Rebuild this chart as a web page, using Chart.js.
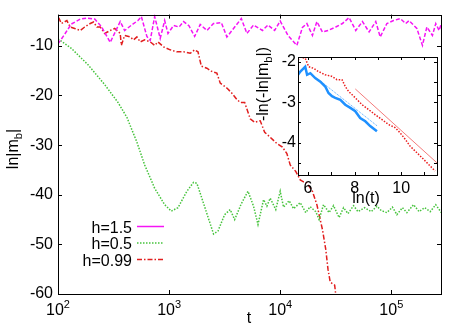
<!DOCTYPE html>
<html>
<head>
<meta charset="utf-8">
<script src="https://cdn.jsdelivr.net/npm/chart.js@4.4.1/dist/chart.umd.min.js"></script>
<style>
  html, body { margin: 0; padding: 0; background: #fff; }
  #wrap { position: relative; width: 475px; height: 332px; }
  #wrap canvas { position: absolute; left: 0; top: 0; }
</style>
</head>
<body>
<div id="wrap">
  <canvas id="mainChart" width="475" height="332"></canvas>
  <canvas id="insetChart" width="475" height="332"></canvas>
</div>
<script>
// main panel: log10(t) against ln|m_b|
const logT_h15 = [2.00, 2.05, 2.12, 2.20, 2.26, 2.33, 2.39, 2.47, 2.56, 2.60, 2.68, 2.72, 2.75, 2.80, 2.83, 2.87, 2.92, 2.96, 2.99, 3.04,
  3.09, 3.13, 3.18, 3.23, 3.28, 3.34, 3.40, 3.47, 3.52, 3.58, 3.65, 3.70, 3.76, 3.84, 3.89, 3.95, 4.00, 4.07, 4.15, 4.20,
  4.24, 4.29, 4.33, 4.38, 4.43, 4.50, 4.56, 4.62, 4.68, 4.74, 4.80, 4.86, 4.90, 4.96, 5.02, 5.08, 5.13, 5.16, 5.23, 5.28,
  5.32, 5.37, 5.40, 5.43, 5.45];
const lnm_h15 = [-9.6, -8.0, -5.6, -4.6, -4.4, -4.6, -6.1, -9.3, -5.1, -6.9, -5.5, -4.9, -4.1, -8.1, -8.9, -4.1, -8.5, -4.9, -7.5, -5.9,
  -6.2, -5.1, -6.0, -8.1, -5.7, -6.9, -5.5, -5.3, -8.2, -6.5, -4.5, -7.5, -5.8, -6.9, -5.8, -6.9, -5.0, -7.9, -9.9, -6.3,
  -5.5, -7.9, -5.1, -7.2, -6.9, -6.2, -5.5, -4.3, -6.9, -5.1, -7.2, -5.1, -8.2, -5.5, -4.9, -4.5, -5.5, -4.9, -6.5, -9.9,
  -6.2, -7.9, -5.5, -6.9, -5.5];

const logT_h05 = [2.00, 2.02, 2.12, 2.27, 2.42, 2.54, 2.62, 2.71, 2.78, 2.87, 2.96, 3.02, 3.08, 3.16, 3.22, 3.25, 3.28, 3.34, 3.40, 3.44,
  3.50, 3.55, 3.59, 3.65, 3.71, 3.76, 3.80, 3.85, 3.88, 3.91, 3.96, 4.00, 4.03, 4.08, 4.12, 4.18, 4.23, 4.27, 4.32, 4.35,
  4.39, 4.44, 4.48, 4.53, 4.57, 4.61, 4.66, 4.70, 4.76, 4.82, 4.87, 4.91, 4.96, 5.01, 5.05, 5.10, 5.14, 5.20, 5.25, 5.30,
  5.35, 5.40, 5.45];
const lnm_h05 = [-8.6, -8.9, -10.5, -13.8, -17.8, -21.4, -24.4, -29.4, -34.0, -38.7, -42.0, -43.3, -42.6, -39.3, -37.5, -37.7, -39.7, -43.8, -47.9, -47.3,
  -44.0, -43.0, -45.0, -41.8, -39.3, -42.3, -46.0, -41.0, -42.3, -40.7, -43.0, -39.3, -42.5, -41.2, -42.8, -41.6, -43.6, -42.4, -43.4, -45.0,
  -42.0, -43.6, -42.2, -44.6, -42.6, -43.8, -42.2, -43.4, -42.6, -43.4, -42.3, -43.2, -43.6, -42.5, -44.0, -42.6, -43.6, -42.0, -43.4, -42.6,
  -43.4, -42.0, -43.6];

const logT_h099 = [2.00, 2.01, 2.03, 2.08, 2.11, 2.15, 2.20, 2.24, 2.29, 2.32, 2.35, 2.38, 2.42, 2.47, 2.51, 2.56, 2.57, 2.60, 2.65, 2.68,
  2.71, 2.74, 2.78, 2.83, 2.87, 2.90, 2.95, 3.01, 3.07, 3.13, 3.19, 3.23, 3.26, 3.29, 3.34, 3.38, 3.43, 3.46, 3.52, 3.56,
  3.61, 3.64, 3.68, 3.73, 3.77, 3.82, 3.86, 3.91, 3.97, 4.02, 4.06, 4.09, 4.14, 4.18, 4.21, 4.24, 4.29, 4.33, 4.36, 4.38,
  4.41, 4.43, 4.45, 4.49, 4.51];
const lnm_h099 = [-4.6, -4.5, -5.5, -4.9, -6.2, -6.5, -6.9, -6.2, -5.5, -5.2, -6.2, -6.2, -7.5, -6.9, -6.5, -7.5, -9.9, -7.9, -8.2, -8.8,
  -8.2, -9.2, -8.8, -9.2, -9.9, -9.2, -10.2, -10.8, -11.2, -11.2, -11.5, -10.8, -11.2, -14.1, -14.5, -15.1, -15.5, -17.5, -18.5, -19.4,
  -20.8, -21.4, -21.4, -24.7, -25.4, -25.1, -27.4, -28.4, -29.7, -30.4, -31.7, -34.0, -35.3, -37.0, -37.4, -37.6, -39.3, -42.0, -45.0, -47.0,
  -51.0, -55.0, -57.6, -58.2, -62.0];

const seriesLabels = ['h=1.5', 'h=0.5', 'h=0.99'];
const xTicks = [1e2, 1e3, 1e4, 1e5];
const yTicks = [-60, -50, -40, -30, -20, -10];

// inset: ln(t) against -ln(-ln|m_b|)
const insetBlueX = [5.57, 5.67, 5.81, 5.88, 5.96, 6.10, 6.31, 6.53, 6.74, 6.88, 7.03, 7.17, 7.39, 7.60, 7.82, 8.03, 8.24, 8.46, 8.67, 8.96];
const insetBlueY = [-2.32, -2.24, -2.16, -2.12, -2.32, -2.28, -2.40, -2.49, -2.61, -2.77, -2.85, -2.89, -2.94, -3.06, -3.14, -3.22, -3.39, -3.47, -3.59, -3.72];
const insetBlueFitX = [6.50, 8.96];
const insetBlueFitY = [-2.46, -3.58];
const insetRedX = [5.57, 5.67, 5.88, 6.03, 6.24, 6.45, 6.74, 7.03, 7.24, 7.46, 7.60, 7.74, 8.03, 8.32, 8.60, 8.89, 9.18, 9.46, 9.75, 9.96,
  10.18, 10.39, 10.68, 10.96, 11.25, 11.46];
const insetRedY = [-1.95, -1.88, -1.91, -2.12, -2.16, -2.24, -2.32, -2.36, -2.44, -2.44, -2.61, -2.73, -2.89, -3.06, -3.18, -3.31, -3.43, -3.55, -3.63, -3.76,
  -3.92, -4.09, -4.25, -4.41, -4.58, -4.70];
const insetRedFitX = [8.03, 11.54];
const insetRedFitY = [-2.67, -4.50];
const insetXTicks = [6, 7, 8, 9, 10, 11];
const insetXLabels = [6, 8, 10];
const insetYTicks = [-4.5, -4, -3.5, -3, -2.5, -2];
const insetYLabels = [-4, -3, -2];

const FONT = "'Liberation Sans', Arial, Helvetica, sans-serif";

const logPts = (xs, ys) => xs.map((e, i) => ({ x: Math.pow(10, e), y: ys[i] }));
const pts = (xs, ys) => xs.map((x, i) => ({ x: x, y: ys[i] }));

// text with subscript parts, centred on (cx, baseline)
function richText(ctx, parts, cx, baseline, size) {
  const widths = parts.map(p => {
    ctx.font = (p.sub ? size * 0.7 : size) + 'px ' + FONT;
    return ctx.measureText(p.t).width;
  });
  let x = cx - widths.reduce((a, b) => a + b, 0) / 2;
  ctx.textAlign = 'left';
  ctx.textBaseline = 'alphabetic';
  parts.forEach((p, i) => {
    ctx.font = (p.sub ? size * 0.7 : size) + 'px ' + FONT;
    ctx.fillText(p.t, x, baseline + (p.sub ? size * 0.25 : 0));
    x += widths[i];
  });
}

// gnuplot-like frame: box plus inward ticks on all four sides
const framePlugin = {
  id: 'frame',
  afterDatasetsDraw(chart, args, opts) {
    const { ctx, chartArea: a } = chart;
    const xs = chart.scales.x, ys = chart.scales.y;
    const len = opts.tick || 4;
    ctx.save();
    ctx.strokeStyle = '#000';
    ctx.lineWidth = 1;
    ctx.setLineDash([]);
    ctx.beginPath();
    xs.ticks.forEach(t => {
      const p = Math.round(xs.getPixelForValue(t.value)) + 0.5;
      ctx.moveTo(p, a.bottom); ctx.lineTo(p, a.bottom - len);
      ctx.moveTo(p, a.top); ctx.lineTo(p, a.top + len);
    });
    ys.ticks.forEach(t => {
      const p = Math.round(ys.getPixelForValue(t.value)) + 0.5;
      ctx.moveTo(a.left, p); ctx.lineTo(a.left + len, p);
      ctx.moveTo(a.right, p); ctx.lineTo(a.right - len, p);
    });
    ctx.stroke();
    ctx.strokeRect(Math.round(a.left) + 0.5, Math.round(a.top) + 0.5,
      Math.round(a.right - a.left), Math.round(a.bottom - a.top));
    ctx.restore();
  }
};

// axis labels, 10^n ticks and legend of the main panel
const mainTextPlugin = {
  id: 'mainText',
  afterDraw(chart) {
    const { ctx } = chart;
    const xs = chart.scales.x;
    ctx.save();
    ctx.fillStyle = '#000';
    xs.ticks.forEach(t => {
      const p = xs.getPixelForValue(t.value);
      const ex = String(Math.round(Math.log10(t.value)));
      ctx.font = '16px ' + FONT;
      const w1 = ctx.measureText('10').width;
      ctx.font = '11px ' + FONT;
      const w2 = ctx.measureText(ex).width;
      const x0 = p - (w1 + w2) / 2;
      ctx.textAlign = 'left';
      ctx.textBaseline = 'alphabetic';
      ctx.font = '16px ' + FONT;
      ctx.fillText('10', x0, 315);
      ctx.font = '11px ' + FONT;
      ctx.fillText(ex, x0 + w1, 308);
    });
    ctx.font = '16px ' + FONT;
    ctx.textAlign = 'center';
    ctx.fillText('t', 249, 323);

    ctx.save();
    ctx.translate(18, 149);
    ctx.rotate(-Math.PI / 2);
    richText(ctx, [{ t: 'ln|m' }, { t: 'b', sub: true }, { t: '|' }], 0, 0, 16);
    ctx.restore();

    // legend
    const rows = [226.5, 243, 259.5];
    chart.data.datasets.forEach((ds, i) => {
      ctx.font = '16px ' + FONT;
      ctx.textAlign = 'right';
      ctx.textBaseline = 'alphabetic';
      ctx.fillStyle = '#000';
      ctx.fillText(ds.label, 132, rows[i] + 6);
      ctx.strokeStyle = ds.borderColor;
      ctx.lineWidth = ds.borderWidth;
      ctx.setLineDash(ds.legendDash || ds.borderDash || []);
      ctx.beginPath();
      ctx.moveTo(137, rows[i]);
      ctx.lineTo(164, rows[i]);
      ctx.stroke();
    });
    ctx.restore();
  }
};

const insetTextPlugin = {
  id: 'insetText',
  afterDraw(chart) {
    const { ctx } = chart;
    ctx.save();
    ctx.fillStyle = '#000';
    ctx.font = '16px ' + FONT;
    ctx.textAlign = 'center';
    ctx.textBaseline = 'alphabetic';
    ctx.fillText('ln(t)', 366, 203);
    ctx.translate(268, 84);
    ctx.rotate(-Math.PI / 2);
    richText(ctx, [{ t: '-ln(-ln|m' }, { t: 'b', sub: true }, { t: '|)' }], 0, 0, 16);
    ctx.restore();
  }
};

new Chart(document.getElementById('mainChart'), {
  type: 'line',
  data: {
    datasets: [
      {
        label: seriesLabels[0],
        data: logPts(logT_h15, lnm_h15),
        borderColor: 'rgb(245, 20, 245)',
        borderWidth: 1.5,
        borderDash: [4, 2],
        legendDash: [],
        pointRadius: 0,
        tension: 0
      },
      {
        label: seriesLabels[1],
        data: logPts(logT_h05, lnm_h05),
        borderColor: 'rgb(70, 195, 60)',
        borderWidth: 1.5,
        borderDash: [1.5, 1.5],
        pointRadius: 0,
        tension: 0
      },
      {
        label: seriesLabels[2],
        data: logPts(logT_h099, lnm_h099),
        borderColor: 'rgb(225, 30, 30)',
        borderWidth: 1.5,
        borderDash: [5, 2, 1.5, 2],
        pointRadius: 0,
        tension: 0
      }
    ]
  },
  options: {
    responsive: false,
    animation: false,
    layout: { padding: { left: 0, top: 11, right: 34, bottom: 0 } },
    scales: {
      x: {
        type: 'logarithmic',
        min: 100,
        max: 2.8e5,
        afterBuildTicks: s => { s.ticks = xTicks.map(v => ({ value: v })); },
        afterFit: s => { s.height = 38; },
        ticks: { display: false },
        grid: { display: false, drawTicks: false },
        border: { display: false }
      },
      y: {
        type: 'linear',
        min: -60,
        max: -3.7,
        afterBuildTicks: s => { s.ticks = yTicks.map(v => ({ value: v })); },
        afterFit: s => { s.width = 58; },
        ticks: { color: '#000', font: { family: FONT, size: 16 }, padding: 5 },
        grid: { display: false, drawTicks: false },
        border: { display: false }
      }
    },
    plugins: {
      legend: { display: false },
      tooltip: { enabled: false },
      frame: { tick: 4 }
    }
  },
  plugins: [framePlugin, mainTextPlugin]
});

new Chart(document.getElementById('insetChart'), {
  type: 'line',
  data: {
    datasets: [
      {
        label: 'blue fit',
        data: pts(insetBlueFitX, insetBlueFitY),
        borderColor: 'rgba(30, 144, 255, 0.8)',
        borderWidth: 1,
        borderDash: [1, 1],
        pointRadius: 0,
        tension: 0
      },
      {
        label: 'blue',
        data: pts(insetBlueX, insetBlueY),
        borderColor: 'rgb(30, 144, 255)',
        borderWidth: 2.5,
        pointRadius: 0,
        tension: 0
      },
      {
        label: 'red fit',
        data: pts(insetRedFitX, insetRedFitY),
        borderColor: 'rgba(240, 90, 90, 0.8)',
        borderWidth: 1,
        pointRadius: 0,
        tension: 0
      },
      {
        label: 'red',
        data: pts(insetRedX, insetRedY),
        borderColor: 'rgb(235, 30, 30)',
        borderWidth: 1.5,
        borderDash: [1.5, 1.5],
        pointRadius: 0,
        tension: 0
      }
    ]
  },
  options: {
    responsive: false,
    animation: false,
    layout: { padding: { left: 0, top: 57, right: 38, bottom: 0 } },
    scales: {
      x: {
        type: 'linear',
        min: 5.57,
        max: 11.54,
        afterBuildTicks: s => { s.ticks = insetXTicks.map(v => ({ value: v })); },
        afterFit: s => { s.height = 157; },
        ticks: {
          color: '#000',
          font: { family: FONT, size: 16 },
          padding: 4,
          autoSkip: false,
          maxRotation: 0,
          callback: v => insetXLabels.includes(v) ? String(v) : ''
        },
        grid: { display: false, drawTicks: false },
        border: { display: false }
      },
      y: {
        type: 'linear',
        min: -4.8,
        max: -1.88,
        afterBuildTicks: s => { s.ticks = insetYTicks.map(v => ({ value: v })); },
        afterFit: s => { s.width = 298; },
        ticks: {
          color: '#000',
          font: { family: FONT, size: 16 },
          padding: 2,
          autoSkip: false,
          callback: v => insetYLabels.includes(v) ? String(v) : ''
        },
        grid: { display: false, drawTicks: false },
        border: { display: false }
      }
    },
    plugins: {
      legend: { display: false },
      tooltip: { enabled: false },
      frame: { tick: 3 }
    }
  },
  plugins: [framePlugin, insetTextPlugin]
});
</script>
</body>
</html>
